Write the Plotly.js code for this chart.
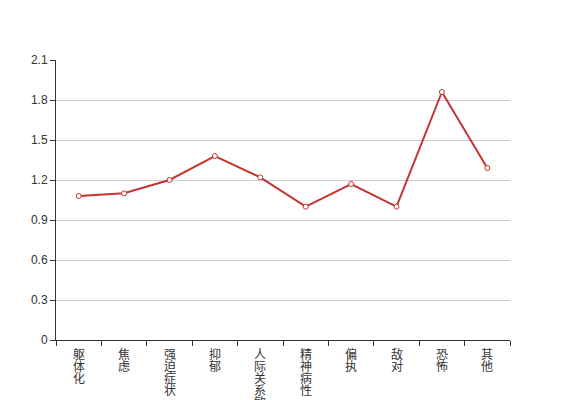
<!DOCTYPE html>
<html>
<head>
<meta charset="utf-8">
<script src="https://cdn.plot.ly/plotly-3.0.1.min.js"></script>
<style>html,body{margin:0;padding:0;background:#fff;}#chart{width:567px;height:400px;}</style>
</head>
<body>
<div id="chart"></div>
<script>
const categories = ["躯体化", "焦虑", "强迫症状", "抑郁", "人际关系敏感", "精神病性", "偏执", "敌对", "恐怖", "其他"];
const values = [1.08, 1.10, 1.20, 1.38, 1.22, 1.00, 1.17, 1.00, 1.86, 1.29];
const yTicks = [0, 0.3, 0.6, 0.9, 1.2, 1.5, 1.8, 2.1];

const font = "Liberation Sans, Noto Sans CJK SC, sans-serif";
const annotations = [];
categories.forEach(function (c) {
  Array.from(c).forEach(function (ch, j) {
    annotations.push({
      x: c, xref: "x", y: 0, yref: "paper",
      text: ch, showarrow: false,
      xanchor: "center", yanchor: "middle",
      yshift: -(13 + 12 * j),
      font: {family: "Noto Sans CJK SC, sans-serif", size: 12, color: "#333"}
    });
  });
});

const trace = {
  x: categories, y: values, type: "scatter", mode: "lines+markers",
  line: {color: "#c23531", width: 2},
  marker: {symbol: "circle", size: 5, color: "#fff", line: {color: "#c23531", width: 1}},
  hoverinfo: "x+y"
};

const layout = {
  width: 567, height: 400,
  margin: {l: 56, r: 57, t: 60, b: 60, pad: 0},
  paper_bgcolor: "#fff", plot_bgcolor: "#fff",
  showlegend: false,
  font: {family: font, size: 12, color: "#333"},
  xaxis: {
    type: "category", range: [-0.5, categories.length - 0.5],
    showticklabels: false, tickson: "boundaries", ticks: "outside", ticklen: 5,
    tickcolor: "#333", showline: true, linecolor: "#333", linewidth: 1,
    showgrid: false, zeroline: false, fixedrange: true, automargin: false
  },
  yaxis: {
    range: [0, 2.1], tickvals: yTicks, ticktext: yTicks.map(String),
    ticks: "outside", ticklen: 5, tickcolor: "#333",
    showline: true, linecolor: "#333", linewidth: 1,
    showgrid: true, gridcolor: "#ccc", gridwidth: 1, zeroline: false,
    tickfont: {family: font, size: 12, color: "#333"}, automargin: false
  },
  annotations: annotations
};

Plotly.newPlot("chart", [trace], layout, {displayModeBar: false, staticPlot: true});
</script>
</body>
</html>
